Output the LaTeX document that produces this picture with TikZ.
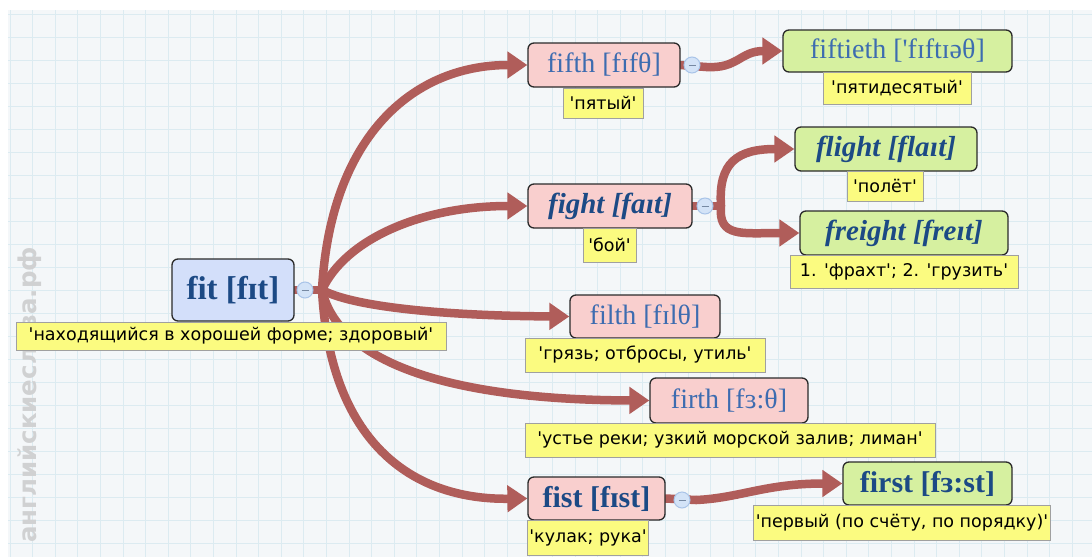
\documentclass[tikz,border=0pt]{standalone}
\usepackage{fontspec}
\setmainfont{Liberation Serif}
\newfontfamily\boxfont{Liberation Serif}
\newfontfamily\labfont{DejaVu Sans}
\newfontfamily\wmfont{DejaVu Sans}
\usetikzlibrary{arrows.meta}
\definecolor{gridbg}{HTML}{F4F7F9}
\definecolor{gridln}{HTML}{DCEBF1}
\definecolor{conncol}{HTML}{B05D5A}
\definecolor{pinkfill}{HTML}{F9CFCE}
\definecolor{greenfill}{HTML}{D6F0A0}
\definecolor{bluefill}{HTML}{D3DFFA}
\definecolor{labfill}{HTML}{FBFB80}
\definecolor{labdraw}{HTML}{A0A0A0}
\definecolor{boxdraw}{HTML}{2A2A2A}
\definecolor{darkblue}{HTML}{1C4A85}
\definecolor{midblue}{HTML}{3D6CB0}
\definecolor{circfill}{HTML}{D3E3F7}
\definecolor{circdraw}{HTML}{A9C4E8}
\definecolor{wmcol}{HTML}{D0D1D2}
\pgfdeclarelayer{gridlayer}
\pgfdeclarelayer{connlayer}
\pgfsetlayers{gridlayer,connlayer,main}
\tikzset{
  wordbox/.style={rounded corners=6pt, draw=boxdraw, line width=1.3pt, inner sep=0pt, align=center},
  pinkbox/.style={wordbox, fill=pinkfill},
  greenbox/.style={wordbox, fill=greenfill},
  bluebox/.style={wordbox, fill=bluefill},
  regtext/.style={font=\boxfont\fontsize{28}{30}\selectfont, text=midblue},
  boldtext/.style={font=\boxfont\fontsize{30}{32}\selectfont\bfseries, text=darkblue},
  bitext/.style={font=\boxfont\fontsize{29}{31}\selectfont\bfseries\itshape, text=darkblue},
  transl/.style={draw=labdraw, fill=labfill, line width=1pt, inner xsep=2pt, inner ysep=0pt, font=\labfont\fontsize{17.5}{19}\selectfont, text=black},
  conn/.style={draw=conncol, line width=8.5pt, line cap=round},
  connarr/.style={conn, line cap=butt, -{Triangle[length=20pt,width=26pt]}},
  collapse/.style={circle, draw=circdraw, fill=circfill, line width=1pt, minimum size=16pt, inner sep=0pt,
    path picture={\draw[draw=circdraw!70!black, line width=0.8pt] ([xshift=-3.5pt]path picture bounding box.center) -- ([xshift=3.5pt]path picture bounding box.center);}},
}
\begin{document}
\begin{tikzpicture}[x=1pt,y=-1pt]
\useasboundingbox (0,0) rectangle (1092,557);
% nodes
\node[bluebox, minimum width=122pt, minimum height=62pt, font=\boxfont\fontsize{33}{35}\selectfont\bfseries, text=darkblue] (fit) at (233,290) {fit [fɪt]};
\node[transl, minimum width=430pt, minimum height=28pt] (fitl) at (231,336) {'находящийся в хорошей форме; здоровый'};
\node[collapse] (cfit) at (305,290) {};
\coordinate (hfit) at (322,290);

\node[pinkbox, minimum width=152pt, minimum height=44pt, regtext] (fifth) at (604,65) {fifth [fɪfθ]};
\node[transl, minimum width=80pt, minimum height=30pt] (fifthl) at (603,103) {'пятый'};
\node[collapse] (cfifth) at (692,65) {};
\coordinate (hfifth) at (706,67);
\node[greenbox, minimum width=229pt, minimum height=42pt, regtext] (fiftieth) at (897.5,51) {fiftieth ['fɪftɪəθ]};
\node[transl, minimum width=148pt, minimum height=32pt] (fiftiethl) at (897,88) {'пятидесятый'};

\node[pinkbox, minimum width=164pt, minimum height=44pt, bitext] (fight) at (610,206) {fight [faɪt]};
\node[transl, minimum width=53pt, minimum height=34pt] (fightl) at (609.5,245) {'бой'};
\node[collapse] (cfight) at (705,206) {};
\coordinate (hfight) at (721,206);
\node[greenbox, minimum width=182pt, minimum height=44pt, bitext] (flight) at (886,149) {flight [flaɪt]};
\node[transl, minimum width=76pt, minimum height=30pt] (flightl) at (885,186) {'полёт'};
\node[greenbox, minimum width=208pt, minimum height=44pt, bitext] (freight) at (904,233) {freight [freɪt]};
\node[transl, minimum width=228pt, minimum height=33pt] (freightl) at (904,271.5) {1. 'фрахт'; 2. 'грузить'};

\node[pinkbox, minimum width=150pt, minimum height=43pt, regtext] (filth) at (645,316.5) {filth [fɪlθ]};
\node[transl, minimum width=240pt, minimum height=34pt] (filthl) at (645,355) {'грязь; отбросы, утиль'};
\node[pinkbox, minimum width=158pt, minimum height=45pt, regtext] (firth) at (729,400.5) {firth [fɜ:θ]};
\node[transl, minimum width=410pt, minimum height=34pt] (firthl) at (730,440) {'устье реки; узкий морской залив; лиман'};

\node[pinkbox, minimum width=137pt, minimum height=43pt, boldtext] (fist) at (596.5,498.5) {fist [fɪst]};
\node[transl, minimum width=120pt, minimum height=35pt] (fistl) at (588,537.5) {'кулак; рука'};
\node[collapse] (cfist) at (682,500) {};
\coordinate (hfist) at (696,500);
\node[greenbox, minimum width=169pt, minimum height=43pt, boldtext] (first) at (927.5,483.5) {first [fɜ:st]};
\node[transl, minimum width=264pt, minimum height=35pt] (firstl) at (902,522.5) {'первый (по счёту, по порядку)'};

% grid and watermark
\begin{pgfonlayer}{gridlayer}
\fill[white] (0,0) rectangle (1092,557);
\fill[gridbg] (8,10) rectangle (1092,557);
\foreach \i in {0,...,47} {\draw[gridln, line width=0.8pt] (10+22.6*\i,10) -- (10+22.6*\i,557);}
\foreach \j in {0,...,23} {\draw[gridln, line width=0.8pt] (8,14+23*\j) -- (1092,14+23*\j);}
\node[rotate=90, font=\wmfont\bfseries\fontsize{24.5}{26}\selectfont, text=wmcol] (wm) at (30,395) {английскиеслова.рф};
\end{pgfonlayer}

% connectors
\begin{pgfonlayer}{connlayer}
\draw[conn] (fit.east) -- (hfit);
\draw[connarr] (hfit) .. controls (330,140) and (410,65) .. (fifth.west);
\draw[connarr] (hfit) .. controls (345,240) and (420,206) .. (fight.west);
\draw[connarr] (hfit) .. controls (360,310) and (470,316) .. (filth.west);
\draw[connarr] (hfit) .. controls (340,370) and (470,400) .. (firth.west);
\draw[connarr] (hfit) .. controls (330,440) and (410,500) .. (fist.west);
\draw[conn] (fifth.east) -- (hfifth);
\draw[connarr] (hfifth) .. controls (738,69) and (740,51) .. (fiftieth.west);
\draw[conn] (fight.east) -- (hfight);
\draw[connarr] (hfight) .. controls (718,162) and (738,149) .. (flight.west);
\draw[connarr] (hfight) .. controls (718,238) and (742,233) .. (freight.west);
\draw[conn] (fist.east) -- (hfist);
\draw[connarr] (hfist) .. controls (740,498) and (765,483.5) .. (first.west);
\end{pgfonlayer}
\end{tikzpicture}
\end{document}
